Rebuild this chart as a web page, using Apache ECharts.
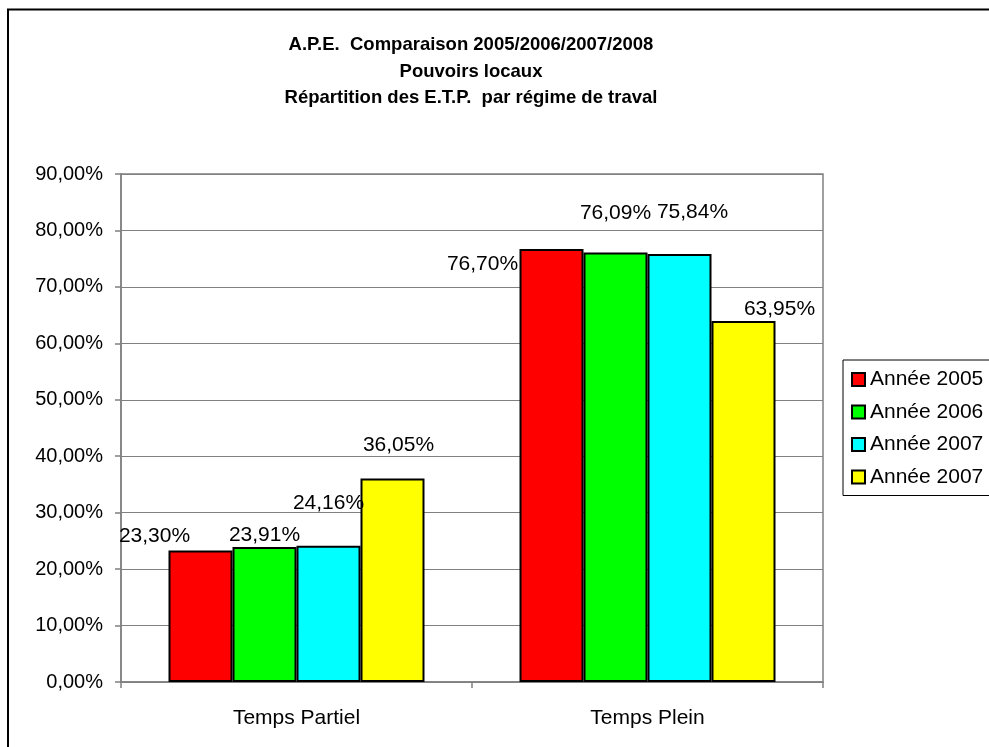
<!DOCTYPE html>
<html>
<head>
<meta charset="utf-8">
<script src="https://cdn.jsdelivr.net/npm/echarts@6/dist/echarts.min.js"></script>
<style>
html,body{margin:0;padding:0;background:#fff;}
#chart{width:989px;height:747px;}
</style>
</head>
<body>
<div id="chart"></div>
<script>
const titleLines = ['A.P.E.  Comparaison 2005/2006/2007/2008', 'Pouvoirs locaux', 'Répartition des E.T.P.  par régime de traval'];
const categories = ['Temps Partiel', 'Temps Plein'];
const seriesNames = ['Année 2005', 'Année 2006', 'Année 2007', 'Année 2007 '];
const values2005 = [23.30, 76.70];
const values2006 = [23.91, 76.09];
const values2007a = [24.16, 75.84];
const values2007b = [36.05, 63.95];
const colors = ['#FF0000', '#00FF00', '#00FFFF', '#FFFF00'];
const yTicks = [0, 10, 20, 30, 40, 50, 60, 70, 80, 90];

// label offsets (placement only)
const labelOffsets = [
  [[-46, 1], [-69, 31]],
  [[0, 4], [0, -24]],
  [[0, -27], [13, -26]],
  [[6, -18], [36, 4]]
];

const allValues = [values2005, values2006, values2007a, values2007b];
const fmt = v => v.toFixed(2).replace('.', ',') + '%';

const chart = echarts.init(document.getElementById('chart'), null, {renderer: 'canvas'});
const font = 'Liberation Sans, Arial, sans-serif';

const series = allValues.map((vals, i) => ({
  name: seriesNames[i],
  type: 'bar',
  barWidth: 64,
  barGap: '0%',
  itemStyle: {color: colors[i], borderColor: '#000', borderWidth: 2},
  label: {
    show: true, position: 'top', distance: 5,
    fontFamily: font, fontSize: 21, color: '#000',
    formatter: p => fmt(p.value)
  },
  emphasis: {disabled: true},
  data: vals.map((v, j) => ({value: v, label: {offset: labelOffsets[i][j]}}))
}));

const titleGraphics = titleLines.map((t, i) => ({
  type: 'text', x: 471, y: 45 + i * 26.5,
  style: {text: t, align: 'center', verticalAlign: 'middle',
    font: 'bold 18.5px ' + font, fill: '#000'},
  silent: true
}));

chart.setOption({
  animation: false,
  backgroundColor: '#fff',
  graphic: [{
    type: 'rect', shape: {x: 8, y: 9.5, width: 2000, height: 2000},
    style: {fill: 'none', stroke: '#000', lineWidth: 2}, z: -10, silent: true
  }].concat(titleGraphics),
  legend: {
    orient: 'vertical', left: 843, top: 360,
    padding: [9, 40, 8, 8],
    itemGap: 11.5, itemWidth: 13, itemHeight: 13,
    icon: 'rect',
    backgroundColor: '#fff', borderColor: '#000', borderWidth: 1,
    textStyle: {fontFamily: font, fontSize: 21, color: '#000'},
    formatter: n => n.trim(),
    data: seriesNames
  },
  grid: {left: 121, right: 166, top: 174, bottom: 65, show: true, borderColor: '#808080', borderWidth: 1.5, backgroundColor: '#fff'},
  xAxis: {
    type: 'category', data: categories,
    axisLine: {lineStyle: {color: '#808080', width: 1.5}},
    axisTick: {show: true, length: 6, lineStyle: {color: '#808080', width: 1.5}},
    axisLabel: {margin: 26, fontFamily: font, fontSize: 21, color: '#000'}
  },
  yAxis: {
    type: 'value', min: yTicks[0], max: yTicks[yTicks.length - 1], interval: 10,
    axisLine: {show: true, lineStyle: {color: '#808080', width: 1.5}},
    axisTick: {show: true, length: 6, lineStyle: {color: '#808080', width: 1.5}},
    splitLine: {lineStyle: {color: '#808080', width: 1}},
    axisLabel: {margin: 18, fontFamily: font, fontSize: 20, color: '#000',
      formatter: v => v.toFixed(2).replace('.', ',') + '%'}
  },
  series: series
});
</script>
</body>
</html>
